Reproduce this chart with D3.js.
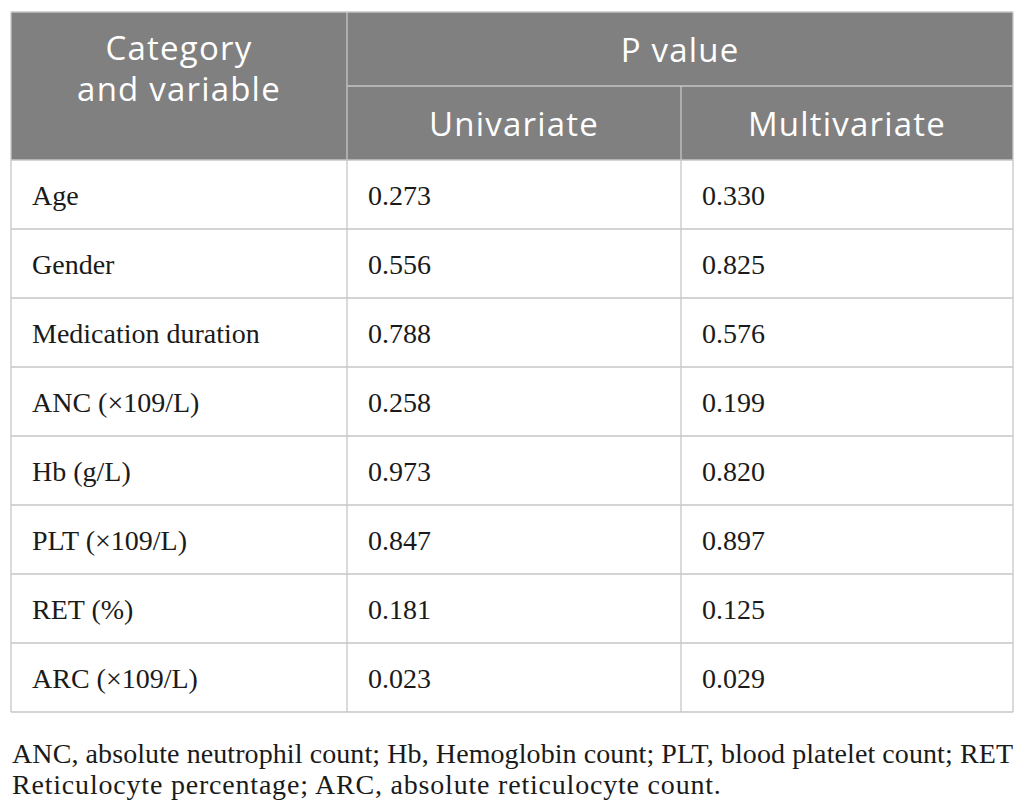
<!DOCTYPE html>
<html lang="en">
<head>
  <meta charset="UTF-8">
  <script src="https://d3js.org/d3.v7.min.js"></script>
  <style>
    body { margin: 0; background: #fff; }
  </style>
</head>
<body>
  <svg id="table" width="1025" height="801"></svg>
  <script>
    var variables = ['Age', 'Gender', 'Medication duration', 'ANC (\u00d7109/L)', 'Hb (g/L)',
                     'PLT (\u00d7109/L)', 'RET (%)', 'ARC (\u00d7109/L)'];
    var univariate = ['0.273', '0.556', '0.788', '0.258', '0.973', '0.847', '0.181', '0.023'];
    var multivariate = ['0.330', '0.825', '0.576', '0.199', '0.820', '0.897', '0.125', '0.029'];
    var columns = ['var', 'uni', 'multi'];
    var footLines = ['ANC, absolute neutrophil count; Hb, Hemoglobin count; PLT, blood platelet count; RET',
                     'Reticulocyte percentage; ARC, absolute reticulocyte count.'];

    var tLeft = 11, tRight = 1013, tTop = 12, headMid = 86, headBottom = 160, tBottom = 712;
    var grey = '#808080', rule = '#c6c6c6';
    var svg = d3.select('#table');

    var scX = d3.scaleOrdinal().domain(columns).range([tLeft, 347, 681]);
    var scY = d3.scaleBand().domain(d3.range(variables.length)).range([headBottom, tBottom]);

    // header block
    svg.append('rect').attr('x', tLeft).attr('y', tTop)
      .attr('width', tRight - tLeft).attr('height', headBottom - tTop).attr('fill', grey);

    var head = svg.append('g').attr('fill', '#fff')
      .attr('font-family', '"Open Sans", sans-serif').attr('font-size', 33)
      .attr('letter-spacing', 1.2).attr('text-anchor', 'middle');
    head.append('text').attr('x', (tLeft + 347) / 2).attr('y', 60).text('Category');
    head.append('text').attr('x', (tLeft + 347) / 2).attr('y', 101).text('and variable');
    head.append('text').attr('x', (347 + tRight) / 2).attr('y', 62).text('P value');
    head.append('text').attr('x', (347 + 681) / 2).attr('y', 136).text('Univariate');
    head.append('text').attr('x', (681 + tRight) / 2).attr('y', 136).text('Multivariate');

    // grid lines
    var lines = svg.append('g').attr('stroke', rule).attr('stroke-width', 1.3);
    lines.append('line').attr('x1', tLeft).attr('x2', tRight).attr('y1', tTop).attr('y2', tTop);
    lines.append('line').attr('x1', 347).attr('x2', tRight).attr('y1', headMid).attr('y2', headMid);
    lines.append('line').attr('x1', tLeft).attr('x2', tLeft).attr('y1', tTop).attr('y2', tBottom);
    lines.append('line').attr('x1', tRight).attr('x2', tRight).attr('y1', tTop).attr('y2', tBottom);
    lines.append('line').attr('x1', 347).attr('x2', 347).attr('y1', tTop).attr('y2', tBottom);
    lines.append('line').attr('x1', 681).attr('x2', 681).attr('y1', headMid).attr('y2', tBottom);
    lines.selectAll('.row').data(d3.range(variables.length + 1)).enter().append('line')
      .attr('x1', tLeft).attr('x2', tRight)
      .attr('y1', d => d < variables.length ? scY(d) : tBottom)
      .attr('y2', d => d < variables.length ? scY(d) : tBottom);

    // body cells
    var cells = [];
    variables.forEach(function(v, i) {
      cells.push({ row: i, col: 'var', text: v });
      cells.push({ row: i, col: 'uni', text: univariate[i] });
      cells.push({ row: i, col: 'multi', text: multivariate[i] });
    });
    svg.append('g').attr('font-family', '"Liberation Serif", "Times New Roman", serif')
      .attr('font-size', 28).attr('fill', '#1a1a1a')
      .selectAll('text').data(cells).enter().append('text')
      .attr('x', d => scX(d.col) + 21)
      .attr('y', d => scY(d.row) + scY.bandwidth() / 2 + 10)
      .text(d => d.text);

    // footnote, first line justified to the table width
    var foot = svg.append('g').attr('font-family', '"Liberation Serif", "Times New Roman", serif')
      .attr('font-size', 28).attr('fill', '#1a1a1a');
    foot.append('text').attr('x', tLeft + 1).attr('y', 763)
      .attr('textLength', tRight - tLeft - 1).attr('lengthAdjust', 'spacing').text(footLines[0]);
    foot.append('text').attr('x', tLeft + 1).attr('y', 794)
      .attr('letter-spacing', 0.8).text(footLines[1]);
  </script>
</body>
</html>
